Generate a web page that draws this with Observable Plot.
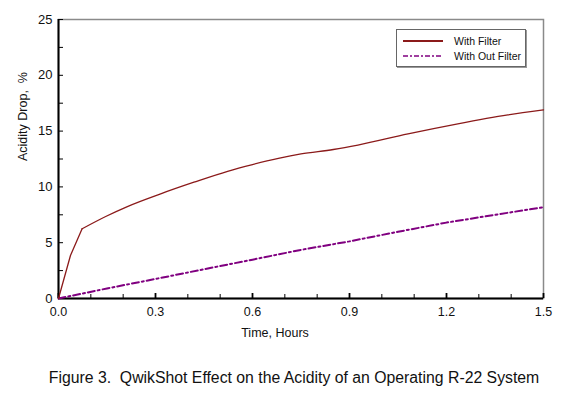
<!DOCTYPE html>
<html><head><meta charset="utf-8">
<script src="https://cdn.jsdelivr.net/npm/d3@7"></script>
<script src="https://cdn.jsdelivr.net/npm/@observablehq/plot@0.6"></script>
<style>
body{margin:0;background:#fff;font-family:"Liberation Sans",Arial,sans-serif;}
#wrap{position:relative;width:574px;height:417px;overflow:hidden;}
#legend{position:absolute;left:396px;top:29px;width:130px;height:38px;border:1px solid #666;box-sizing:border-box;box-shadow:1px 1px 0 #999;font-size:10.5px;color:#111;background:#fff;}
#legend .row{position:absolute;left:6px;height:14px;display:flex;align-items:center;}
#legend .row span{margin-left:11px;white-space:nowrap;}
#caption{position:absolute;left:0;width:588px;top:369px;text-align:center;font-size:15.8px;color:#111;white-space:pre;}
</style></head>
<body><div id="wrap"><div id="chart"></div><div id="legend"></div><div id="caption"></div></div>
<script>
const seriesNames = ["With Filter", "With Out Filter"];
const seriesColors = ["#8b1a1a", "#800080"];
const timeFilter = [0, 0.037, 0.073, 0.146, 0.213, 0.316, 0.419, 0.523, 0.6, 0.68, 0.75, 0.85, 0.926, 1.081, 1.235, 1.39, 1.5];
const acidFilter = [0, 3.85, 6.25, 7.35, 8.24, 9.38, 10.42, 11.4, 12.0, 12.55, 12.95, 13.35, 13.75, 14.75, 15.65, 16.45, 16.9];
const timeNoFilter = [0, 0.15, 0.3, 0.45, 0.6, 0.75, 0.9, 1.05, 1.2, 1.35, 1.5];
const acidNoFilter = [0, 0.9, 1.75, 2.62, 3.48, 4.36, 5.12, 5.98, 6.8, 7.5, 8.18];
const xTicks = [0, 0.3, 0.6, 0.9, 1.2, 1.5];
const xMinorTicks = d3.range(0, 16).map(i => i / 10);
const yTicks = [0, 5, 10, 15, 20, 25];
const yMinorTicks = d3.range(0, 11).map(i => i * 2.5);
const xLabel = "Time, Hours";
const yLabel = "Acidity Drop,\u00a0 %";
const captionText = "Figure 3.  QwikShot Effect on the Acidity of an Operating R-22 System";

const withF = timeFilter.map((t, i) => ({t, v: acidFilter[i]}));
const noF = timeNoFilter.map((t, i) => ({t, v: acidNoFilter[i]}));
// the steep start-up segment is straight; the rest is a smooth curve
const withFStart = withF.slice(0, 3);
const withFRest = withF.slice(2);

const chart = Plot.plot({
  width: 574, height: 345,
  marginLeft: 58, marginRight: 31, marginTop: 19, marginBottom: 47,
  style: {fontFamily: '"Liberation Sans", Arial, sans-serif', fontSize: "12px", color: "#111", background: "#fff"},
  x: {domain: [0, 1.5]},
  y: {domain: [0, 25]},
  marks: [
    Plot.frame({stroke: "#8a8a8a", strokeWidth: 1.5}),
    Plot.axisX(xMinorTicks, {tickSize: -4, text: null, label: null, stroke: "#000"}),
    Plot.axisX(xTicks, {tickSize: -5, text: null, label: null, stroke: "#000", strokeWidth: 1.8}),
    Plot.axisX(xTicks, {tickSize: 0, tickPadding: 9, tickFormat: d3.format(".1f"), label: null, fontSize: 12.5}),
    Plot.axisY(yMinorTicks, {tickSize: -5, text: null, label: null, stroke: "#000"}),
    Plot.axisY(yTicks, {tickSize: 0, tickPadding: 6, label: null, fontSize: 13}),
    Plot.ruleY([0], {stroke: "#000", strokeWidth: 2}),
    Plot.ruleX([0], {stroke: "#000", strokeWidth: 2}),
    Plot.line(noF, {x: "t", y: "v", stroke: seriesColors[1], strokeWidth: 2, strokeDasharray: "7,3,2,3"}),
    Plot.line(withFStart, {x: "t", y: "v", stroke: seriesColors[0], strokeWidth: 1.3, strokeLinejoin: "miter"}),
    Plot.line(withFRest, {x: "t", y: "v", stroke: seriesColors[0], strokeWidth: 1.3, curve: "monotone-x"}),
    Plot.text([xLabel], {text: d => d, frameAnchor: "bottom", dx: -26, dy: 38, fontSize: 12.5}),
    Plot.text([yLabel], {text: d => d, frameAnchor: "left", rotate: -90, dx: -36, dy: 2, fontSize: 12.5})
  ]
});
document.getElementById("chart").append(chart);

const legend = document.getElementById("legend");
seriesNames.forEach((name, i) => {
  const row = document.createElement("div");
  row.className = "row";
  row.style.top = (4 + i * 15) + "px";
  const dash = i === 0 ? "" : "5,2,2,2";
  row.innerHTML = `<svg width="40" height="4"><line x1="0" x2="40" y1="2" y2="2" stroke="${seriesColors[i]}" stroke-width="${i === 0 ? 2 : 1.5}" stroke-dasharray="${dash}"/></svg><span>${name}</span>`;
  legend.append(row);
});
document.getElementById("caption").textContent = captionText;
</script></body></html>
